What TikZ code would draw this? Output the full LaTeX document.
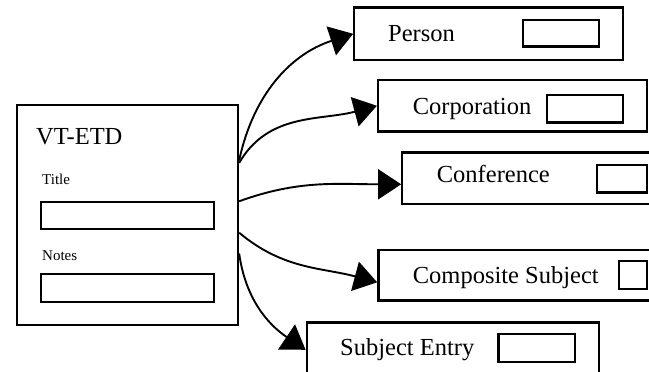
\documentclass[tikz,border=0pt]{standalone}
\usepackage{fontspec}
\setmainfont{Liberation Serif}
\usetikzlibrary{arrows.meta}

\begin{document}
\begin{tikzpicture}[x=1pt,y=1pt,
    frame/.style={draw, line width=2.3pt, inner sep=0pt},
    link/.style={line width=1.9pt, -{Triangle[length=23pt,width=30pt]}},
    big/.style={font=\fontsize{24.5}{28}\selectfont, inner sep=0pt, anchor=base west},
    small/.style={font=\fontsize{15}{17}\selectfont, inner sep=0pt, anchor=base west}]
    \useasboundingbox (0,0) rectangle (649,372);

    % record on the left
    \node[frame, minimum width=221pt, minimum height=220pt] (etd) at (127.5,157) {};
    \node[big] (etdname) at (36,227.7) {VT-ETD};
    \node[small] (titlename) at (42,187) {Title};
    \node[frame, minimum width=173pt, minimum height=27pt] (titlefield) at (127.5,156.5) {};
    \node[small] (notesname) at (42,111.3) {Notes};
    \node[frame, minimum width=173pt, minimum height=28pt] (notesfield) at (127.5,84) {};

    % entries on the right
    \node[frame, minimum width=268.4pt, minimum height=52.3pt] (person) at (488.5,338.2) {};
    \node[big] (personname) at (388,330.3) {Person};
    \node[frame, minimum width=76.3pt, minimum height=26.7pt] (personfield) at (560.9,338.7) {};

    \node[frame, minimum width=268.7pt, minimum height=51.7pt] (corp) at (512.4,266.2) {};
    \node[big] (corpname) at (412.7,257) {Corporation};
    \node[frame, minimum width=76.6pt, minimum height=27.7pt] (corpfield) at (585,263.2) {};

    \node[frame, minimum width=268pt, minimum height=51.3pt] (conf) at (536.3,193.7) {};
    \node[big] (confname) at (436.7,189) {Conference};
    \node[frame, minimum width=50pt, minimum height=27.7pt] (conffield) at (621.7,193.2) {};

    \node[frame, minimum width=291.7pt, minimum height=50.7pt] (comp) at (524.2,96.7) {};
    \node[big] (compname) at (412.7,88) {Composite Subject};
    \node[frame, minimum width=27.4pt, minimum height=28pt] (compfield) at (633,97) {};

    \node[frame, minimum width=292.3pt, minimum height=54.3pt] (subj) at (452.9,22.2) {};
    \node[big] (subjname) at (340,16.3) {Subject Entry};
    \node[frame, minimum width=76.7pt, minimum height=27.4pt] (subjfield) at (536.7,24) {};

    % links
    \draw[link] (etd.26.5) to[out=78,in=198] (person.west);
    \draw[link] (etd.25.2) to[out=60,in=195] (corp.west);
    \draw[link] (etd.7.7) to[out=20,in=180] ([yshift=-6pt]conf.west);
    \draw[link] (etd.-9.3) to[out=-40,in=165] ([yshift=-7pt]comp.west);
    \draw[link] (etd.-19) to[out=-82,in=146] (subj.west);
\end{tikzpicture}
\end{document}
